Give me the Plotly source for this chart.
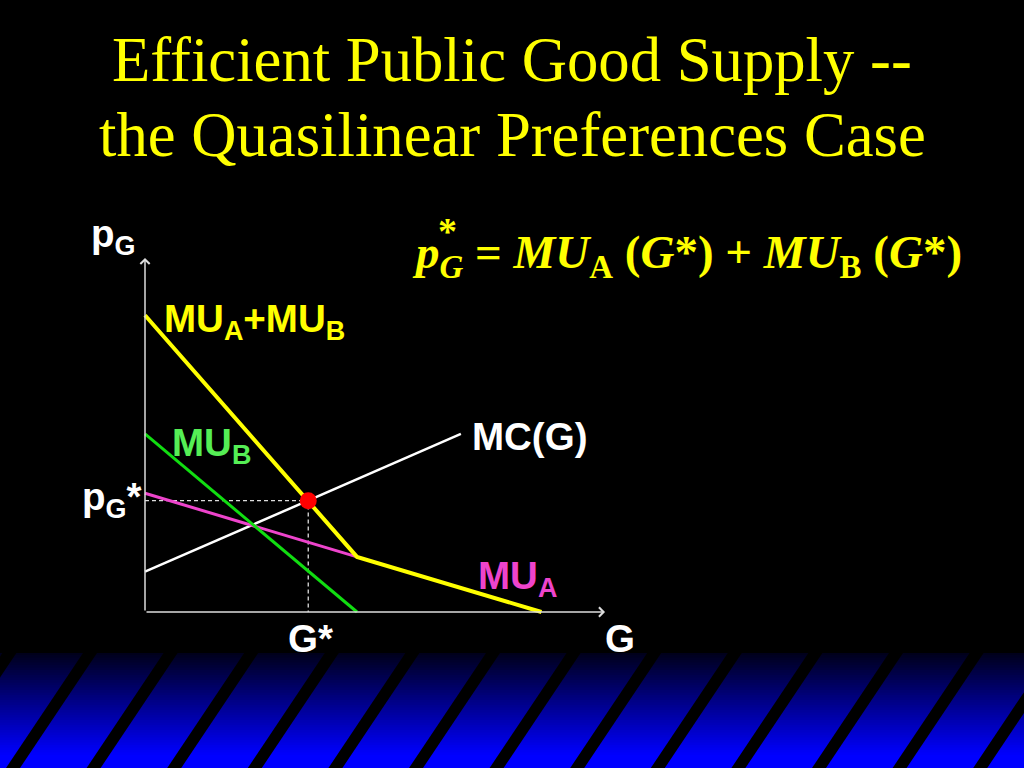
import plotly.graph_objects as go

# ---------------- data (economic units) ----------------
G_sum = [0, 10, 18.7]      # MU_A + MU_B (kinked)
p_sum = [14.0, 2.6, 0]
G_B = [0, 10]              # MU_B
p_B = [8.4, 0]
G_A = [0, 10]              # MU_A (drawn up to the kink)
p_A = [5.6, 2.6]
G_mc = [0, 14.9]           # MC(G)
p_mc = [1.9, 8.4]
G_star = 7.7
p_star = 5.25
G_axis_max = 21.7
p_axis_max = 16.7

W, H = 1024, 768
ORIG_X, ORIG_Y, SCALE = 145, 612, 21.2


def fx(x):
    return x / W


def fy(y):
    return 1 - y / H


fig = go.Figure()

YELLOW = "#ffff00"
MAGENTA = "#ee44cc"
WHITE = "#ffffff"

# dashed guides
fig.add_trace(go.Scatter(x=[0, G_star, G_star], y=[p_star, p_star, 0], mode="lines",
                         line=dict(color="#dddddd", width=1.3, dash="4px,3px"), hoverinfo="skip"))
fig.add_trace(go.Scatter(x=G_mc, y=p_mc, mode="lines", line=dict(color=WHITE, width=2.5), hoverinfo="skip"))
fig.add_trace(go.Scatter(x=G_A, y=p_A, mode="lines", line=dict(color=MAGENTA, width=3), hoverinfo="skip"))
fig.add_trace(go.Scatter(x=G_B, y=p_B, mode="lines", line=dict(color="#11dd11", width=3), hoverinfo="skip"))
fig.add_trace(go.Scatter(x=G_sum, y=p_sum, mode="lines", line=dict(color=YELLOW, width=4), hoverinfo="skip"))
fig.add_trace(go.Scatter(x=[G_star], y=[p_star], mode="markers",
                         marker=dict(color="#ff0000", size=17, line=dict(width=0)), hoverinfo="skip"))

# axes with arrows
annotations = [
    dict(x=0, y=p_axis_max, ax=0, ay=0, xref="x", yref="y", axref="x", ayref="y",
         showarrow=True, arrowhead=4, arrowsize=1.2, arrowwidth=1.5, arrowcolor="#dddddd", text=""),
    dict(x=G_axis_max, y=0, ax=0, ay=0, xref="x", yref="y", axref="x", ayref="y",
         showarrow=True, arrowhead=4, arrowsize=1.2, arrowwidth=1.5, arrowcolor="#dddddd", text=""),
]

SANS = "Liberation Sans, Arial, sans-serif"
SERIF = "Liberation Serif, Times New Roman, serif"


def label(text, x, y, color, size, family=SANS):
    annotations.append(dict(x=fx(x), y=fy(y), xref="paper", yref="paper", text=text,
                            showarrow=False, xanchor="center", yanchor="middle",
                            font=dict(color=color, size=size, family=family)))


# title
label("Efficient Public Good Supply --", 512, 60, YELLOW, 62.7, SERIF)
label("the Quasilinear Preferences Case", 512, 135, YELLOW, 62.7, SERIF)

# chart labels
LS = 38.5
label("<b>p<sub>G</sub></b>", 113, 236, WHITE, LS)
label("<b>MU<sub>A</sub>+MU<sub>B</sub></b>", 254, 322, YELLOW, LS)
label("<b>MU<sub>B</sub></b>", 211, 445, "#55ee55", LS)
label("<b>MC(G)</b>", 529, 436, WHITE, LS)
label("<b>p<sub>G</sub>*</b>", 111, 499, WHITE, LS)
label("<b>MU<sub>A</sub></b>", 517, 578, MAGENTA, LS)
label("<b>G*</b>", 310, 638, WHITE, LS)
label("<b>G</b>", 620, 638, WHITE, LS)

# formula
label("<b><i>p</i><sub><i>G</i></sub> = <i>MU</i><sub>A</sub> (<i>G</i>*) + <i>MU</i><sub>B</sub> (<i>G</i>*)</b>",
      687, 256, YELLOW, 47, SERIF)
label("<b>*</b>", 447, 231, YELLOW, 38, SERIF)

# background band: gradient + diagonal stripes
shapes = []
band_top, band_bot = 653, 768
n = 46
for i in range(n):
    y0 = band_top + (band_bot - band_top) * i / n
    y1 = band_top + (band_bot - band_top) * (i + 1) / n
    t = (i + 0.5) / n
    b = int(25 + 230 * min(1, t * 1.12))
    shapes.append(dict(type="rect", xref="paper", yref="paper", x0=0, x1=1, y0=fy(y1), y1=fy(y0) + 0.0005,
                       fillcolor=f"rgb(0,0,{b})", line=dict(width=0), layer="below"))
for k in range(-1, 14):
    bx = 6 + 80.6 * k
    tx = bx + 77
    w = 14
    path = (f"M {fx(bx)} {fy(band_bot)} L {fx(bx + w)} {fy(band_bot)} "
            f"L {fx(tx + w)} {fy(band_top)} L {fx(tx)} {fy(band_top)} Z")
    shapes.append(dict(type="path", xref="paper", yref="paper", path=path,
                       fillcolor="#000000", line=dict(width=0), layer="below"))
shapes.append(dict(type="rect", xref="paper", yref="paper", x0=0, x1=1, y0=fy(band_top), y1=1,
                   fillcolor="#000000", line=dict(width=0), layer="below"))

fig.update_layout(
    width=W, height=H, margin=dict(l=0, r=0, t=0, b=0),
    paper_bgcolor="#000000", plot_bgcolor="rgba(0,0,0,0)",
    showlegend=False,
    xaxis=dict(range=[-ORIG_X / SCALE, (W - ORIG_X) / SCALE], visible=False, fixedrange=True),
    yaxis=dict(range=[-(H - ORIG_Y) / SCALE, ORIG_Y / SCALE], visible=False, fixedrange=True),
    annotations=annotations, shapes=shapes,
)

fig.write_html("out.html", config={"displayModeBar": False},
               post_script="document.body.style.margin='0';document.body.style.background='#000';")
